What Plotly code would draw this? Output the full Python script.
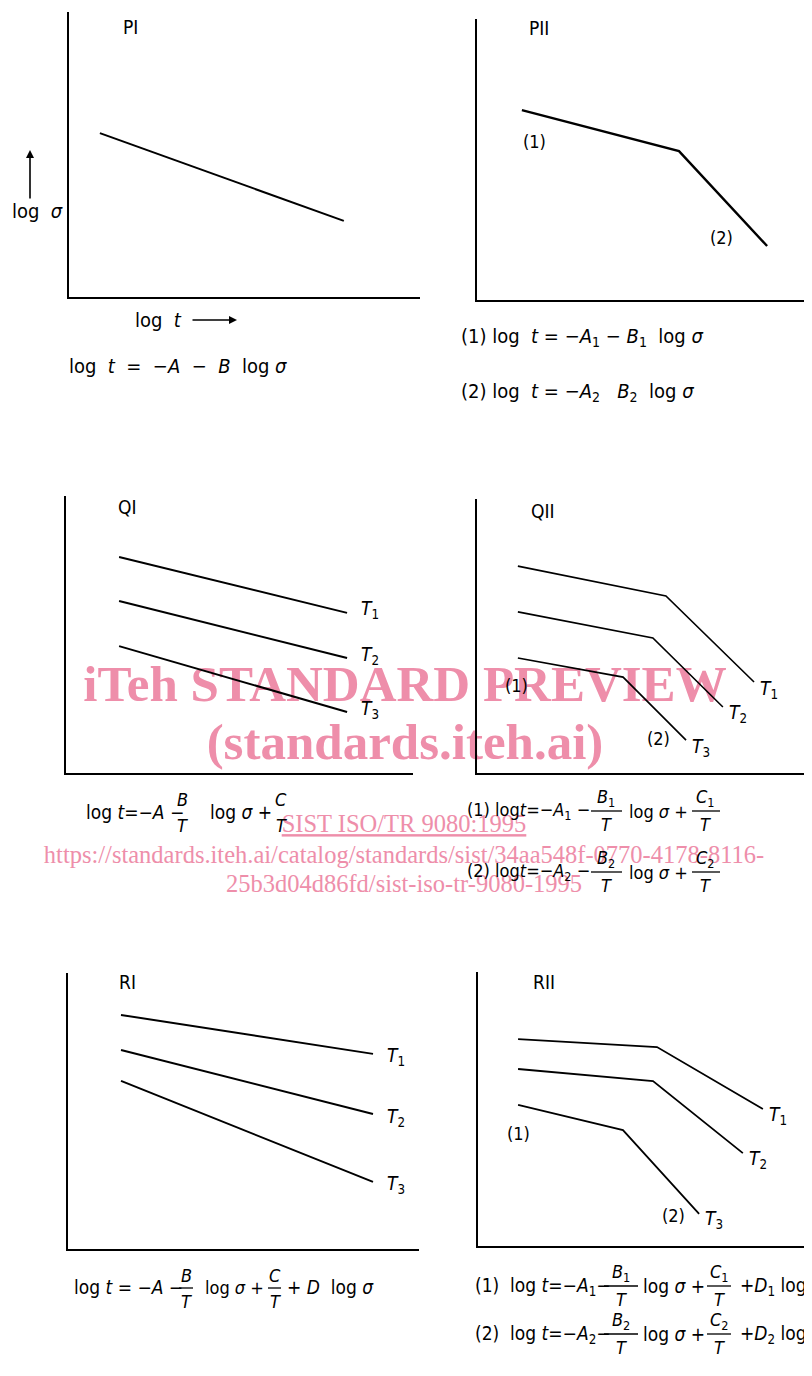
import plotly.graph_objects as go

# ---- data (normalised log t / log sigma, axes run 0..10) ----
log_t_pi = [0.88, 7.83]
log_sigma_pi = [5.75, 2.67]

log_t_pii = [1.34, 6.03, 8.66]
log_sigma_pii = [6.76, 5.30, 1.92]

log_t_qi = [1.53, 8.10]
log_sigma_qi_t1 = [7.80, 5.78]
log_sigma_qi_t2 = [6.21, 4.15]
log_sigma_qi_t3 = [4.58, 2.20]

log_t_qii_t1 = [1.22, 5.64, 8.27]
log_t_qii_t2 = [1.22, 5.25, 7.34]
log_t_qii_t3 = [1.22, 4.36, 6.24]
log_sigma_qii_t1 = [7.55, 6.46, 3.32]
log_sigma_qii_t2 = [5.88, 4.93, 2.41]
log_sigma_qii_t3 = [4.20, 3.50, 1.20]

log_t_ri = [1.51, 8.69]
log_sigma_ri_t1 = [8.48, 7.07]
log_sigma_ri_t2 = [7.21, 4.89]
log_sigma_ri_t3 = [6.09, 2.43]

log_t_rii_t1 = [1.20, 5.36, 8.53]
log_t_rii_t2 = [1.20, 5.24, 7.93]
log_t_rii_t3 = [1.20, 4.34, 6.62]
log_sigma_rii_t1 = [7.55, 7.26, 5.00]
log_sigma_rii_t2 = [6.46, 6.02, 3.39]
log_sigma_rii_t3 = [5.15, 4.23, 1.17]

temperatures = ["1", "2", "3"]

watermark_lines = [
    "<b>iTeh STANDARD PREVIEW</b>",
    "<b>(standards.iteh.ai)</b>",
    "<u>SIST ISO/TR 9080:1995</u>",
    "https://standards.iteh.ai/catalog/standards/sist/34aa548f-0770-4178-8116-",
    "25b3d04d86fd/sist-iso-tr-9080-1995",
]

# page is 812x1376; the html body adds an 8px margin, so the figure is
# slightly smaller and every page position is shifted by OFF
OFF = 8
FW, FH = 804, 1360
INK = "black"
PINK = "#ee8eaa"
SANS = "Liberation Sans Narrow, DejaVu Sans Condensed, Liberation Sans, sans-serif"
SERIF = "Liberation Serif, Times New Roman, serif"


def px(x):
    return (x - OFF) / FW


def py(y):
    return 1 - (y - OFF) / FH


# panel boxes in page pixels: left, right, top, bottom
panels = {
    2: (69, 420, 12, 297),     # PI
    3: (477, 812, 19, 300),    # PII
    4: (66, 413, 496, 773),    # QI
    5: (477, 812, 499, 773),   # QII
    6: (68, 419, 973, 1249),   # RI
    7: (478, 812, 972, 1246),  # RII
}

fig = go.Figure()
# full-page subplot underneath everything, used for the watermark
layout = {
    "xaxis": dict(domain=[0, 1], range=[OFF, OFF + FW], visible=False, fixedrange=True),
    "yaxis": dict(domain=[0, 1], range=[OFF + FH, OFF], visible=False, fixedrange=True),
}
for i, (x0, x1, y0, y1) in panels.items():
    s = str(i)
    common = dict(
        range=[0, 10], showline=True, linecolor=INK, linewidth=2,
        showgrid=False, zeroline=False, showticklabels=False, ticks="",
        fixedrange=True,
    )
    layout["xaxis" + s] = dict(domain=[px(x0), min(px(x1), 1)], anchor="y" + s, **common)
    layout["yaxis" + s] = dict(domain=[py(y1), py(y0)], anchor="x" + s, **common)
fig.update_layout(**layout)

# watermark (drawn first so the drawing sits on top of it)
for t, x, y, size in zip(watermark_lines, [405, 405, 404, 404, 404],
                         [688, 746, 826, 857, 886], [51, 51, 24.5, 24.5, 24.5]):
    fig.add_trace(go.Scatter(
        x=[x], y=[y], mode="text", text=[t], textposition="middle center",
        textfont=dict(family=SERIF, size=size, color=PINK),
        xaxis="x", yaxis="y", showlegend=False, hoverinfo="skip", cliponaxis=False,
    ))


def line(i, x, y, width=2):
    s = str(i)
    fig.add_trace(go.Scatter(
        x=x, y=y, mode="lines", line=dict(color=INK, width=width),
        xaxis="x" + s, yaxis="y" + s, showlegend=False, hoverinfo="skip",
    ))


def curve_label(i, x, y, k, dx, dy):
    s = str(i)
    fig.add_annotation(
        x=x[-1], y=y[-1], xref="x" + s, yref="y" + s, showarrow=False,
        text="<i>T</i><sub>" + temperatures[k] + "</sub>",
        xanchor="left", yanchor="middle", xshift=dx, yshift=dy,
        font=dict(family=SANS, size=19, color=INK),
    )


def text(x, y, t, size=19, anchor="left", family=SANS, color=INK):
    fig.add_annotation(
        x=px(x), y=py(y), xref="paper", yref="paper", showarrow=False,
        text=t, xanchor=anchor, yanchor="middle",
        font=dict(family=family, size=size, color=color),
    )


def frac(xc, y, num, den, bar=None, size=18):
    text(xc, y - 13, num, size=size, anchor="center")
    text(xc, y + 13, den, size=size, anchor="center")
    if bar:
        fig.add_shape(type="line", xref="paper", yref="paper",
                      x0=px(bar[0]), x1=px(bar[1]), y0=py(y), y1=py(y),
                      line=dict(color=INK, width=1.3))


# ---- curves ----
line(2, log_t_pi, log_sigma_pi)
line(3, log_t_pii, log_sigma_pii, width=2.4)

for k, ys in enumerate([log_sigma_qi_t1, log_sigma_qi_t2, log_sigma_qi_t3]):
    line(4, log_t_qi, ys)
    curve_label(4, log_t_qi, ys, k, 12, 3)

qii = [(log_t_qii_t1, log_sigma_qii_t1), (log_t_qii_t2, log_sigma_qii_t2),
       (log_t_qii_t3, log_sigma_qii_t3)]
for k, (xs, ys) in enumerate(qii):
    line(5, xs, ys, width=1.6)
    curve_label(5, xs, ys, k, 4, -7)

for k, ys in enumerate([log_sigma_ri_t1, log_sigma_ri_t2, log_sigma_ri_t3]):
    line(6, log_t_ri, ys)
    curve_label(6, log_t_ri, ys, k, 12, -3)

rii = [(log_t_rii_t1, log_sigma_rii_t1), (log_t_rii_t2, log_sigma_rii_t2),
       (log_t_rii_t3, log_sigma_rii_t3)]
for k, (xs, ys) in enumerate(rii):
    line(7, xs, ys, width=1.8)
    curve_label(7, xs, ys, k, 4, -6)

# ---- panel titles ----
for t, x, y in [("PI", 130, 27), ("PII", 539, 28), ("QI", 128, 507),
                ("QII", 543, 511), ("RI", 128, 982), ("RII", 544, 982)]:
    text(x, y, t, size=19, anchor="center")

# segment markers
for t, x, y in [("(1)", 534, 142), ("(2)", 721, 237), ("(1)", 516, 685),
                ("(2)", 658, 738), ("(1)", 518, 1133), ("(2)", 673, 1215)]:
    text(x, y, t, size=18, anchor="center")

# ---- axis labels with arrows ----
nb = "\u00a0"
text(10, 211, "log" + nb + nb + "<i>σ</i>", size=20)
fig.add_annotation(x=px(30), y=py(150), xref="paper", yref="paper", text="",
                   showarrow=True, ax=0, ay=50, arrowhead=2, arrowsize=1,
                   arrowwidth=1.6, arrowcolor=INK)
text(133, 320, "log" + nb + nb + "<i>t</i>", size=20)
fig.add_annotation(x=px(237), y=py(320), xref="paper", yref="paper", text="",
                   showarrow=True, ax=-46, ay=0, arrowhead=2, arrowsize=1,
                   arrowwidth=1.6, arrowcolor=INK)

# ---- formulas ----
sp = nb + nb
text(67, 366, "log" + sp + "<i>t</i>" + sp + "=" + sp + "−<i>A</i>" + sp + "−"
     + sp + "<i>B</i>" + sp + "log" + nb + "<i>σ</i>", size=20)
text(459, 337, "(1)" + nb + "log" + sp + "<i>t</i>" + nb + "=" + nb + "−<i>A</i><sub>1</sub>"
     + nb + "−" + nb + "<i>B</i><sub>1</sub>" + sp + "log" + nb + "<i>σ</i>", size=20)
text(459, 392, "(2)" + nb + "log" + sp + "<i>t</i>" + nb + "=" + nb + "−<i>A</i><sub>2</sub>"
     + sp + nb + "<i>B</i><sub>2</sub>" + sp + "log" + nb + "<i>σ</i>", size=20)

# QI
text(84, 812, "log" + nb + "<i>t</i>=−<i>A</i>" + nb + "−", size=19)
frac(182, 812, "<i>B</i>", "<i>T</i>")
text(208, 812, "log" + nb + "<i>σ</i>" + nb + "+", size=19)
frac(281, 812, "<i>C</i>", "<i>T</i>")

# QII
for n, y in [("1", 811), ("2", 872)]:
    text(465, y, "(" + n + ")" + nb + "log<i>t</i>=−<i>A</i><sub>" + n + "</sub>" + nb + "−", size=18)
    frac(606, y, "<i>B</i><sub>" + n + "</sub>", "<i>T</i>", bar=(591, 622))
    text(627, y, "log" + nb + "<i>σ</i>" + nb + "+", size=18)
    frac(705, y, "<i>C</i><sub>" + n + "</sub>", "<i>T</i>", bar=(692, 720))

# RI
text(72, 1287, "log" + nb + "<i>t</i>" + nb + "=" + nb + "−<i>A</i>" + nb + "−", size=19)
frac(186, 1288, "<i>B</i>", "<i>T</i>", bar=(179, 193))
text(203, 1287, "log" + nb + "<i>σ</i>" + nb + "+", size=18)
frac(275, 1288, "<i>C</i>", "<i>T</i>", bar=(268, 281))
text(285, 1287, "+" + nb + "<i>D</i>" + sp + "log" + nb + "<i>σ</i>", size=19)

# RII
for n, y in [("1", 1286), ("2", 1334)]:
    text(473, y, "(" + n + ")" + sp + "log" + nb + "<i>t</i>=−<i>A</i><sub>" + n + "</sub>−", size=19)
    frac(621, y, "<i>B</i><sub>" + n + "</sub>", "<i>T</i>", bar=(604, 638))
    text(641, y, "log" + nb + "<i>σ</i>" + nb + "+", size=19)
    frac(719, y, "<i>C</i><sub>" + n + "</sub>", "<i>T</i>", bar=(707, 731))
    text(738, y, "+<i>D</i><sub>" + n + "</sub>" + nb + "log" + nb + "<i>σ</i>", size=19)

fig.update_layout(
    width=FW, height=FH, margin=dict(l=0, r=0, t=0, b=0),
    paper_bgcolor="white", plot_bgcolor="rgba(0,0,0,0)", showlegend=False,
)
fig.write_html("out.html")
